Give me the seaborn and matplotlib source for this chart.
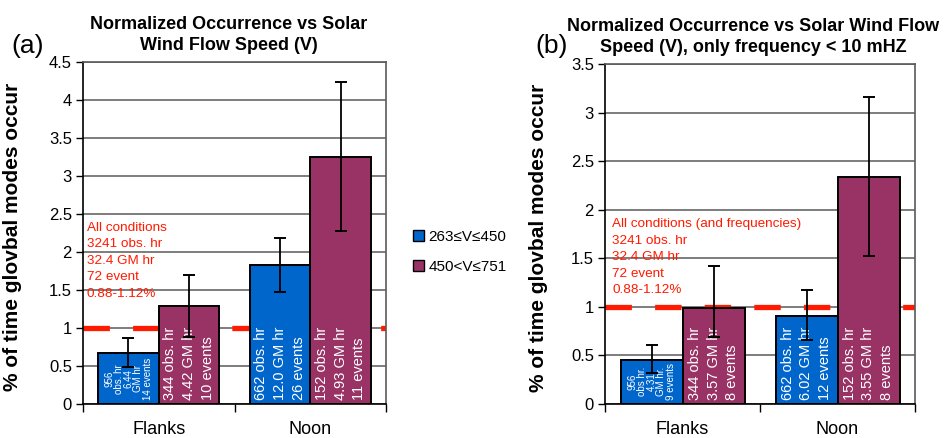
import matplotlib
matplotlib.use("Agg")
import matplotlib.pyplot as plt
from matplotlib.patches import Patch
import seaborn as sns
import pandas as pd

# ---------------- data ----------------
categories = ["Flanks", "Noon"]
speed_levels = ["263≤V≤450", "450<V≤751"]

# panel (a)
a_slow = [0.67, 1.83]
a_fast = [1.29, 3.245]
a_slow_lo = [0.49, 1.48]
a_slow_hi = [0.865, 2.18]
a_fast_lo = [0.885, 2.28]
a_fast_hi = [1.70, 4.24]
a_slow_text = ["956\nobs. hr\n6.44\nGM hr\n14 events", "662 obs. hr\n12.0 GM hr\n26 events"]
a_fast_text = ["344 obs. hr\n4.42 GM hr\n10 events", "152 obs. hr\n4.93 GM hr\n11 events"]
a_note = "All conditions\n3241 obs. hr\n32.4 GM hr\n72 event\n0.88-1.12%"
a_title = "Normalized Occurrence vs Solar\nWind Flow Speed (V)"

# panel (b)
b_slow = [0.45, 0.91]
b_fast = [0.99, 2.34]
b_slow_lo = [0.315, 0.66]
b_slow_hi = [0.61, 1.17]
b_fast_lo = [0.69, 1.52]
b_fast_hi = [1.42, 3.16]
b_slow_text = ["956\nobs hr.\n4.31\nGM hr.\n9 events", "662 obs. hr\n6.02 GM hr\n12 events"]
b_fast_text = ["344 obs. hr\n3.57 GM hr\n8 events", "152 obs. hr\n3.55 GM hr\n8 events"]
b_note = "All conditions (and frequencies)\n3241 obs. hr\n32.4 GM hr\n72 event\n0.88-1.12%"
b_title = "Normalized Occurrence vs Solar Wind Flow\nSpeed (V), only frequency < 10 mHZ"

reference_level = 1.0
ylabel = "% of time glovbal modes occur"

# ---------------- style ----------------
sns.set_theme(style="white")
plt.rcParams["font.family"] = ["Liberation Sans", "DejaVu Sans"]
for key in ["text.color", "axes.labelcolor", "xtick.color", "ytick.color"]:
    plt.rcParams[key] = "black"

BLUE = "#0066CC"
PURPLE = "#993366"
RED = "#FF1A00"
GRID = "#5a5a5a"

fig = plt.figure(figsize=(9.48, 4.38), dpi=100)
W, H = 948, 438


def px_axes(l, r, t, b):
    return fig.add_axes([l / W, 1 - b / H, (r - l) / W, (b - t) / H])


ax_a = px_axes(83, 386, 62, 404)
ax_b = px_axes(605, 915, 64, 404)


def draw_panel(ax, slow, fast, slow_lo, slow_hi, fast_lo, fast_hi,
               slow_text, fast_text, note, note_xy, title, title_x, ymax,
               small_idx):
    df = pd.DataFrame({
        "region": categories * 2,
        "speed": [speed_levels[0]] * 2 + [speed_levels[1]] * 2,
        "value": list(slow) + list(fast),
    })
    ax.set_axisbelow(True)
    sns.barplot(data=df, x="region", y="value", hue="speed",
                order=categories, hue_order=speed_levels,
                palette=[BLUE, PURPLE], width=0.8, edgecolor="black",
                linewidth=1.4, errorbar=None, legend=False, ax=ax,
                saturation=1)
    for bar in ax.patches:
        bar.set_zorder(2)
    bar_containers = list(ax.containers)

    ax.axhline(reference_level, color=RED, lw=3.8,
               linestyle=(0, (5.0, 4.4)), zorder=1.5)

    los = [slow_lo, fast_lo]
    his = [slow_hi, fast_hi]
    vals = [slow, fast]
    texts = [slow_text, fast_text]
    for k, cont in enumerate(bar_containers):
        xs = [p.get_x() + p.get_width() / 2 for p in cont.patches]
        ys = vals[k]
        lo = [y - l for y, l in zip(ys, los[k])]
        hi = [h - y for y, h in zip(ys, his[k])]
        ax.errorbar(xs, ys, yerr=[lo, hi], fmt="none", ecolor="black",
                    elinewidth=1.3, capsize=4.2, capthick=1.4, zorder=4)
        for i, (x, t) in enumerate(zip(xs, texts[k])):
            if (k, i) == small_idx:
                ax.annotate(t, xy=(x, 0), xytext=(0, 3),
                            textcoords="offset points", rotation=90,
                            ha="center", va="bottom", multialignment="center",
                            color="white", fontsize=7, linespacing=0.95,
                            zorder=3)
            else:
                ax.annotate(t, xy=(x, 0), xytext=(0, 3),
                            textcoords="offset points", rotation=90,
                            ha="center", va="bottom", multialignment="left",
                            color="white", fontsize=10.5, linespacing=1.45,
                            zorder=3)

    ax.text(note_xy[0], note_xy[1], note, transform=ax.get_yaxis_transform(),
            ha="left", va="top", color=RED, fontsize=9.7, linespacing=1.5,
            zorder=3)

    ax.set_xlim(-0.5, 1.5)
    ax.set_ylim(0, ymax)
    ticks = [i * 0.5 for i in range(int(round(ymax / 0.5)) + 1)]
    ax.set_yticks(ticks)
    ax.set_yticklabels([f"{t:g}" for t in ticks], fontsize=12)
    ax.set_xticks([0, 1])
    ax.set_xticklabels(categories, fontsize=13)
    ax.set_xticks([-0.5, 0.5, 1.5], minor=True)
    ax.tick_params(axis="x", which="major", length=0, pad=12)
    ax.tick_params(axis="x", which="minor", length=6, width=1, color="black",
                   direction="out", bottom=True)
    ax.tick_params(axis="y", length=5, width=1, color="black",
                   direction="out", left=True, pad=3)
    ax.yaxis.grid(True, color=GRID, lw=1.1)
    ax.xaxis.grid(False)
    ax.set_xlabel("")
    ax.set_ylabel(ylabel, fontsize=15, fontweight="bold")
    for side in ["left", "bottom"]:
        ax.spines[side].set_color("black")
        ax.spines[side].set_linewidth(1.2)
    for side in ["top", "right"]:
        ax.spines[side].set_color(GRID)
        ax.spines[side].set_linewidth(1.2)
    ax.set_title(title, fontsize=13, fontweight="bold", linespacing=1.3,
                 x=title_x, pad=9)


draw_panel(ax_a, a_slow, a_fast, a_slow_lo, a_slow_hi, a_fast_lo, a_fast_hi,
           a_slow_text, a_fast_text, a_note, (0.013, 2.40), a_title, 0.482,
           4.5, (0, 0))
draw_panel(ax_b, b_slow, b_fast, b_slow_lo, b_slow_hi, b_fast_lo, b_fast_hi,
           b_slow_text, b_fast_text, b_note, (0.023, 1.91), b_title, 0.477,
           3.5, (0, 0))

ax_a.yaxis.set_label_coords((22 - 83) / 303, 0.488)
ax_b.yaxis.set_label_coords((548 - 605) / 310, 0.49)

fig.text(28 / W, 1 - 46 / H, "(a)", fontsize=19, ha="center", va="center")
fig.text(552 / W, 1 - 46 / H, "(b)", fontsize=19, ha="center", va="center")

handles = [Patch(facecolor=BLUE, edgecolor="black", lw=1),
           Patch(facecolor=PURPLE, edgecolor="black", lw=1)]
fig.legend(handles, speed_levels, loc="center left",
           bbox_to_anchor=(413 / W, 1 - 252 / H), frameon=False,
           fontsize=11, handlelength=0.7, handleheight=0.7,
           handletextpad=0.3, labelspacing=1.05, borderpad=0,
           borderaxespad=0)

fig.savefig("out.png", dpi=100)
